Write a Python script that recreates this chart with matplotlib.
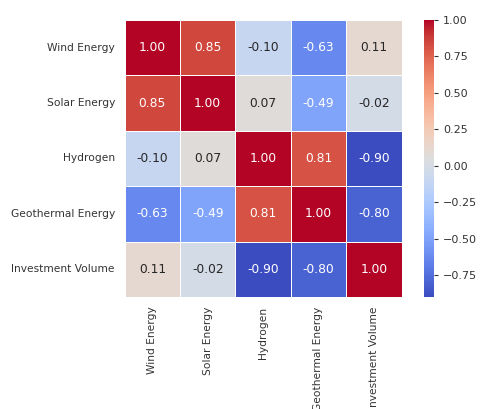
import numpy as np
import matplotlib
matplotlib.use("Agg")
import matplotlib.pyplot as plt
import seaborn as sns

labels = ["Wind Energy", "Solar Energy", "Hydrogen", "Geothermal Energy", "Investment Volume"]
corr = np.array([
    [1.00, 0.85, -0.10, -0.63, 0.11],
    [0.85, 1.00, 0.07, -0.49, -0.02],
    [-0.10, 0.07, 1.00, 0.81, -0.90],
    [-0.63, -0.49, 0.81, 1.00, -0.80],
    [0.11, -0.02, -0.90, -0.80, 1.00],
])
cbar_ticks = [-0.75, -0.50, -0.25, 0.00, 0.25, 0.50, 0.75, 1.00]

fig = plt.figure(figsize=(4.81, 4.09), dpi=100)
ax = fig.add_axes([0.258, 0.274, 0.578, 0.677])
cax = fig.add_axes([0.881, 0.274, 0.021, 0.677])

sns.heatmap(corr, annot=True, fmt=".2f", cmap="coolwarm", linewidths=0.5,
            linecolor="white", square=True, ax=ax, cbar_ax=cax,
            xticklabels=labels, yticklabels=labels,
            annot_kws={"fontsize": 8.8})

ax.tick_params(length=0, labelsize=7.7, colors="#333333", pad=7)
ax.set_xticklabels(labels, rotation=90)
ax.set_yticklabels(labels, rotation=0)
cax.set_yticks(cbar_ticks)
cax.set_yticklabels([f"{t:.2f}".replace("-", "\u2212") for t in cbar_ticks])
cax.tick_params(labelsize=8, colors="#333333", length=3)
cax.spines[:].set_visible(False)

fig.savefig("out.png", dpi=100)
